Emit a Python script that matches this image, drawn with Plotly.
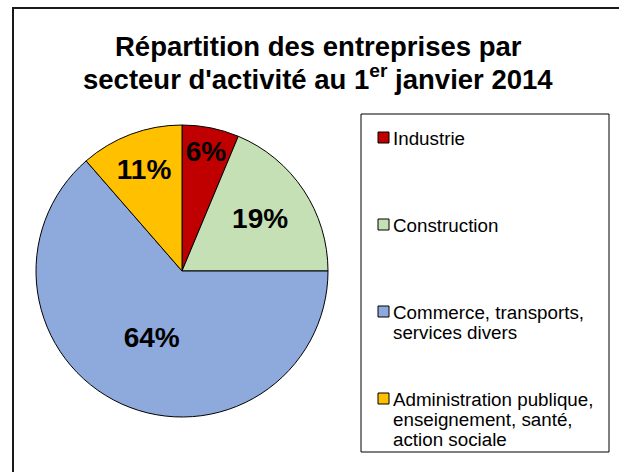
import plotly.graph_objects as go

# ---- data ----
categories = ["Industrie", "Construction", "Commerce, transports, services divers",
              "Administration publique, enseignement, santé, action sociale"]
shares = [6.3, 18.7, 63.6, 11.4]
legend_lines = [["Industrie"], ["Construction"],
                ["Commerce, transports,", "services divers"],
                ["Administration publique,", "enseignement, santé,", "action sociale"]]
colors = ["#C00000", "#C5E0B4", "#8EA9DB", "#FFC000"]
title_lines = ["Répartition des entreprises par",
               "secteur d'activité au 1<sup>er</sup> janvier 2014"]

W, H = 619, 472
def px(x):
    return x / W
def py(y):
    return 1 - y / H

FONT = "Arial, Liberation Sans, sans-serif"

fig = go.Figure()
fig.add_trace(go.Pie(
    labels=categories,
    values=shares,
    sort=False,
    direction="clockwise",
    rotation=0,
    marker=dict(colors=colors, line=dict(color="#000000", width=1)),
    texttemplate="%{percent:.0%}",
    textposition="inside",
    insidetextorientation="horizontal",
    textfont=dict(family=FONT, size=28, color="#000000", weight="bold"),
    domain=dict(x=[px(36), px(328)], y=[py(417), py(125)]),
    showlegend=False,
    hoverinfo="label+percent",
))

shapes = []
annotations = []

# outer chart border (top and left visible)
shapes.append(dict(type="rect", xref="paper", yref="paper",
                   x0=px(13), x1=1.1, y0=-0.1, y1=py(8),
                   line=dict(color="#1a1a1a", width=2), fillcolor="rgba(0,0,0,0)"))

# title
for i, t in enumerate(title_lines):
    annotations.append(dict(text="<b>" + t + "</b>", xref="paper", yref="paper",
                            x=px(318), y=py(47 + 30 * i), xanchor="center", yanchor="middle",
                            showarrow=False,
                            font=dict(family=FONT, size=27.5, color="#000000")))

# legend box
shapes.append(dict(type="rect", xref="paper", yref="paper",
                   x0=px(361), x1=px(609), y0=py(452), y1=py(114),
                   line=dict(color="#000000", width=1), fillcolor="rgba(0,0,0,0)"))

pitch = 87
line_gap = 20
for i, (lines, col) in enumerate(zip(legend_lines, colors)):
    yc = 137.5 + i * pitch
    shapes.append(dict(type="rect", xref="paper", yref="paper",
                       x0=px(378), x1=px(389), y0=py(yc + 5.5), y1=py(yc - 5.5),
                       line=dict(color="#000000", width=1), fillcolor=col))
    for j, ln in enumerate(lines):
        annotations.append(dict(text=ln, xref="paper", yref="paper",
                                x=px(391), y=py(yc + 1 + j * line_gap),
                                xanchor="left", yanchor="middle", showarrow=False,
                                font=dict(family=FONT, size=18.8, color="#000000")))

fig.update_layout(
    width=W, height=H,
    margin=dict(l=0, r=0, t=0, b=0),
    paper_bgcolor="#FFFFFF",
    plot_bgcolor="#FFFFFF",
    shapes=shapes,
    annotations=annotations,
    uniformtext=dict(minsize=28, mode="show"),
)

fig.write_html("out.html",
               config={"displayModeBar": False},
               post_script="document.body.style.margin='0px';document.body.style.padding='0px';")
